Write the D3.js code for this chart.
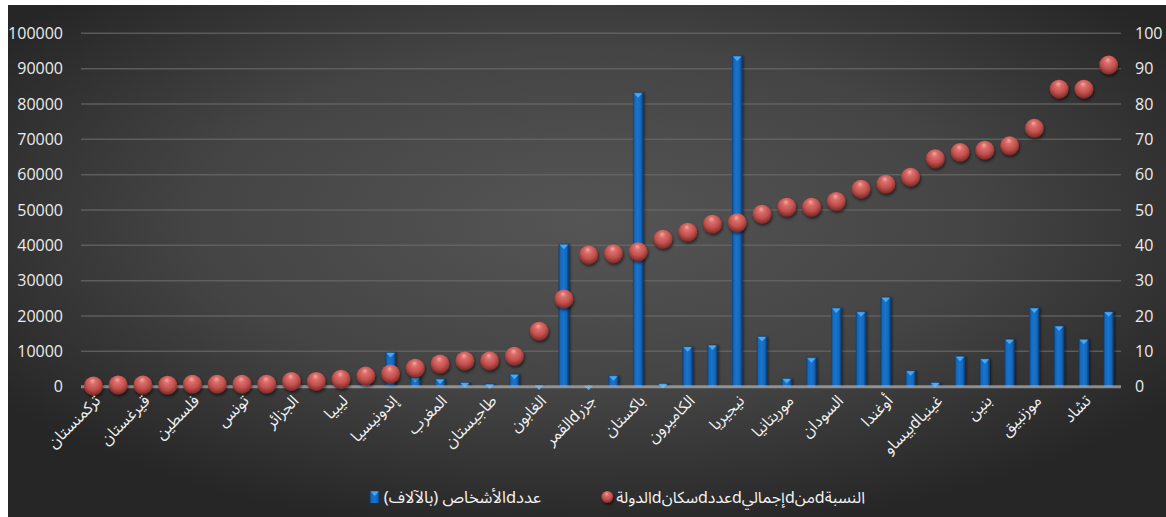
<!DOCTYPE html>
<html lang="ar">
<head>
<meta charset="utf-8">
<script src="https://cdn.jsdelivr.net/npm/d3@7"></script>
<style>
  html, body { margin: 0; padding: 0; background: #ffffff; }
  svg { display: block; }
  .tick-label { font-family: "Open Sans", "Noto Sans", sans-serif; font-size: 16px; fill: #ececec; }
  .cat-label, .legend-label { font-family: "Noto Sans Arabic", "DejaVu Sans", sans-serif; fill: #f2f2f2; }
</style>
</head>
<body>
<svg id="chart" width="1166" height="517"></svg>
<script>
// Countries along the horizontal axis (every other one gets a label)
const countries = [
  "تركمنستان", "", "قيرغستان", "", "فلسطين", "", "تونس", "", "الجزائر", "", "ليبيا", "",
  "إندونيسيا", "", "المغرب", "", "طاجيستان", "", "الغابون", "", "جزرdالقمر", "",
  "باكستان", "", "الكاميرون", "", "نيجيريا", "", "موريتانيا", "", "السودان", "",
  "أوغندا", "", "غينياdبيساو", "", "بنين", "", "موزنبيق", "", "تشاد", ""
];

// Number of people (thousands) — left axis
const peopleThousands = [
  300, 500, 200, 600, 400, 700, 300, 1200, 900, 400, 600, 1500,
  9700, 2600, 2200, 1200, 750, 3500, 500, 40300, 400, 3100,
  83200, 900, 11300, 11800, 93600, 14200, 2300, 8200, 22300, 21200,
  25300, 4500, 1200, 8600, 7900, 13400, 22300, 17200, 13400, 21200
];

// Share of the country's total population (%) — right axis
const sharePercent = [
  0.2, 0.5, 0.5, 0.4, 0.7, 0.7, 0.7, 0.7, 1.5, 1.5, 2.1, 3.0,
  3.6, 5.2, 6.4, 7.3, 7.3, 8.6, 15.7, 24.8, 37.3, 37.6,
  38.2, 41.7, 43.7, 46.0, 46.4, 48.8, 50.8, 50.8, 52.4, 55.9,
  57.3, 59.3, 64.5, 66.3, 66.9, 68.2, 73.1, 84.2, 84.2, 91.0
];

const leftTicks = [0, 10000, 20000, 30000, 40000, 50000, 60000, 70000, 80000, 90000, 100000];
const rightTicks = [0, 10, 20, 30, 40, 50, 60, 70, 80, 90, 100];

const seriesNames = ["عددdالأشخاص (بالآلاف)", "النسبةdمنdإجماليdعددdسكانdالدولة"];

const svg = d3.select("#chart");
const W = 1166, H = 517;
const plot = { left: 81, right: 1121, top: 33.3, bottom: 386.7 };

const defs = svg.append("defs");

// Dark radial background
const bg = defs.append("radialGradient").attr("id", "bgGrad")
  .attr("cx", "50%").attr("cy", "42%").attr("r", "62%");
bg.append("stop").attr("offset", "0%").attr("stop-color", "#555555");
bg.append("stop").attr("offset", "55%").attr("stop-color", "#444444");
bg.append("stop").attr("offset", "100%").attr("stop-color", "#262626");

// Bar body shading
const barGrad = defs.append("linearGradient").attr("id", "barGrad")
  .attr("x1", "0%").attr("x2", "100%").attr("y1", "0%").attr("y2", "0%");
[["0%", "#0a3f7a"], ["18%", "#1468bb"], ["45%", "#1a74cc"], ["75%", "#1667bb"], ["100%", "#08366a"]]
  .forEach(([o, c]) => barGrad.append("stop").attr("offset", o).attr("stop-color", c));

// Sphere shading
const ballGrad = defs.append("radialGradient").attr("id", "ballGrad")
  .attr("cx", "50%").attr("cy", "38%").attr("r", "60%").attr("fx", "45%").attr("fy", "22%");
[["0%", "#f4a9a6"], ["25%", "#dc6f6b"], ["65%", "#c0504d"], ["100%", "#7e2a28"]]
  .forEach(([o, c]) => ballGrad.append("stop").attr("offset", o).attr("stop-color", c));

const shadow = defs.append("filter").attr("id", "shadow")
  .attr("x", "-50%").attr("y", "-50%").attr("width", "200%").attr("height", "200%");
shadow.append("feDropShadow").attr("dx", 1).attr("dy", 2).attr("stdDeviation", 1.6)
  .attr("flood-color", "#000").attr("flood-opacity", 0.55);

const barShadow = defs.append("filter").attr("id", "barShadow")
  .attr("x", "-50%").attr("y", "-5%").attr("width", "200%").attr("height", "110%");
barShadow.append("feDropShadow").attr("dx", 1.5).attr("dy", 0).attr("stdDeviation", 1)
  .attr("flood-color", "#000").attr("flood-opacity", 0.45);

svg.append("rect").attr("x", 8).attr("y", 5).attr("width", W - 8).attr("height", H - 5)
  .attr("fill", "url(#bgGrad)");

// Scales
const x = d3.scalePoint().domain(d3.range(countries.length))
  .range([plot.left, plot.right]).padding(0.5);
const step = x.step();
const barW = step * 0.42;
const yLeft = d3.scaleLinear().domain([0, 100000]).range([plot.bottom, plot.top]);
const yRight = d3.scaleLinear().domain([0, 100]).range([plot.bottom, plot.top]);

// Gridlines
svg.append("g").selectAll("line").data(leftTicks.filter(d => d > 0)).join("line")
  .attr("x1", plot.left).attr("x2", plot.right)
  .attr("y1", d => yLeft(d)).attr("y2", d => yLeft(d))
  .attr("stroke", "#6a6a6a").attr("stroke-opacity", 0.75).attr("stroke-width", 1.5);

// Left axis
const axL = svg.append("g").attr("transform", `translate(${plot.left},0)`)
  .call(d3.axisLeft(yLeft).tickValues(leftTicks).tickFormat(d3.format("d")).tickSize(0).tickPadding(18));
axL.select(".domain").remove();
axL.selectAll("text").attr("class", "tick-label").attr("fill", null);

// Right axis
const axR = svg.append("g").attr("transform", `translate(${plot.right},0)`)
  .call(d3.axisRight(yRight).tickValues(rightTicks).tickFormat(d3.format("d")).tickSize(0).tickPadding(14));
axR.select(".domain").remove();
axR.selectAll("text").attr("class", "tick-label").attr("fill", null);

// Bars
const bars = svg.append("g").selectAll("g").data(peopleThousands).join("g");
bars.append("rect")
  .attr("x", (d, i) => x(i) - barW / 2)
  .attr("y", d => yLeft(d))
  .attr("width", barW)
  .attr("height", d => plot.bottom - yLeft(d))
  .attr("fill", "url(#barGrad)")
  .attr("filter", "url(#barShadow)");
bars.append("path")
  .attr("d", (d, i) => {
    const cx = x(i), t = yLeft(d);
    return `M${cx - barW / 2 + 1},${t + 0.5} L${cx + barW / 2 - 1},${t + 0.5} L${cx},${t + 5} Z`;
  })
  .attr("fill", "#4aa8f0");

// Zero baseline drawn over the bar feet
svg.append("line")
  .attr("x1", plot.left).attr("x2", plot.right)
  .attr("y1", yLeft(0)).attr("y2", yLeft(0))
  .attr("stroke", "#b4b4b4").attr("stroke-opacity", 0.7).attr("stroke-width", 3);

// Spheres
svg.append("g").selectAll("circle").data(sharePercent).join("circle")
  .attr("cx", (d, i) => x(i))
  .attr("cy", d => yRight(d))
  .attr("r", 9.5)
  .attr("fill", "url(#ballGrad)")
  .attr("filter", "url(#shadow)");

// Category labels, rotated; right-to-left so the first word sits at the tick end
svg.append("g").selectAll("text")
  .data(countries.map((name, i) => ({ name, i })).filter(d => d.name !== ""))
  .join("text")
  .attr("class", "cat-label")
  .attr("font-size", 16)
  .attr("direction", "rtl")
  .attr("text-anchor", "start")
  .attr("transform", d => `translate(${x(d.i) + 8},${plot.bottom + 15}) rotate(-45)`)
  .text(d => d.name);

// Legend: each text is right-aligned, its marker placed just left of it
const lg = svg.append("g");
const t1 = lg.append("text").attr("class", "legend-label").attr("font-size", 16.5)
  .attr("direction", "rtl").attr("text-anchor", "start")
  .attr("x", 541).attr("y", 503).text(seriesNames[0]);
const t2 = lg.append("text").attr("class", "legend-label").attr("font-size", 16)
  .attr("direction", "rtl").attr("text-anchor", "start")
  .attr("x", 865).attr("y", 503).text(seriesNames[1]);
const left1 = 541 - t1.node().getComputedTextLength();
const left2 = 865 - t2.node().getComputedTextLength();
lg.append("rect").attr("x", left1 - 14).attr("y", 491).attr("width", 10).attr("height", 12)
  .attr("fill", "url(#barGrad)");
lg.append("path").attr("d", `M${left1 - 13},491.5 L${left1 - 5},491.5 L${left1 - 9},496 Z`)
  .attr("fill", "#4aa8f0");
lg.append("circle").attr("cx", left2 - 9).attr("cy", 497).attr("r", 6)
  .attr("fill", "url(#ballGrad)").attr("filter", "url(#shadow)");
</script>
</body>
</html>
